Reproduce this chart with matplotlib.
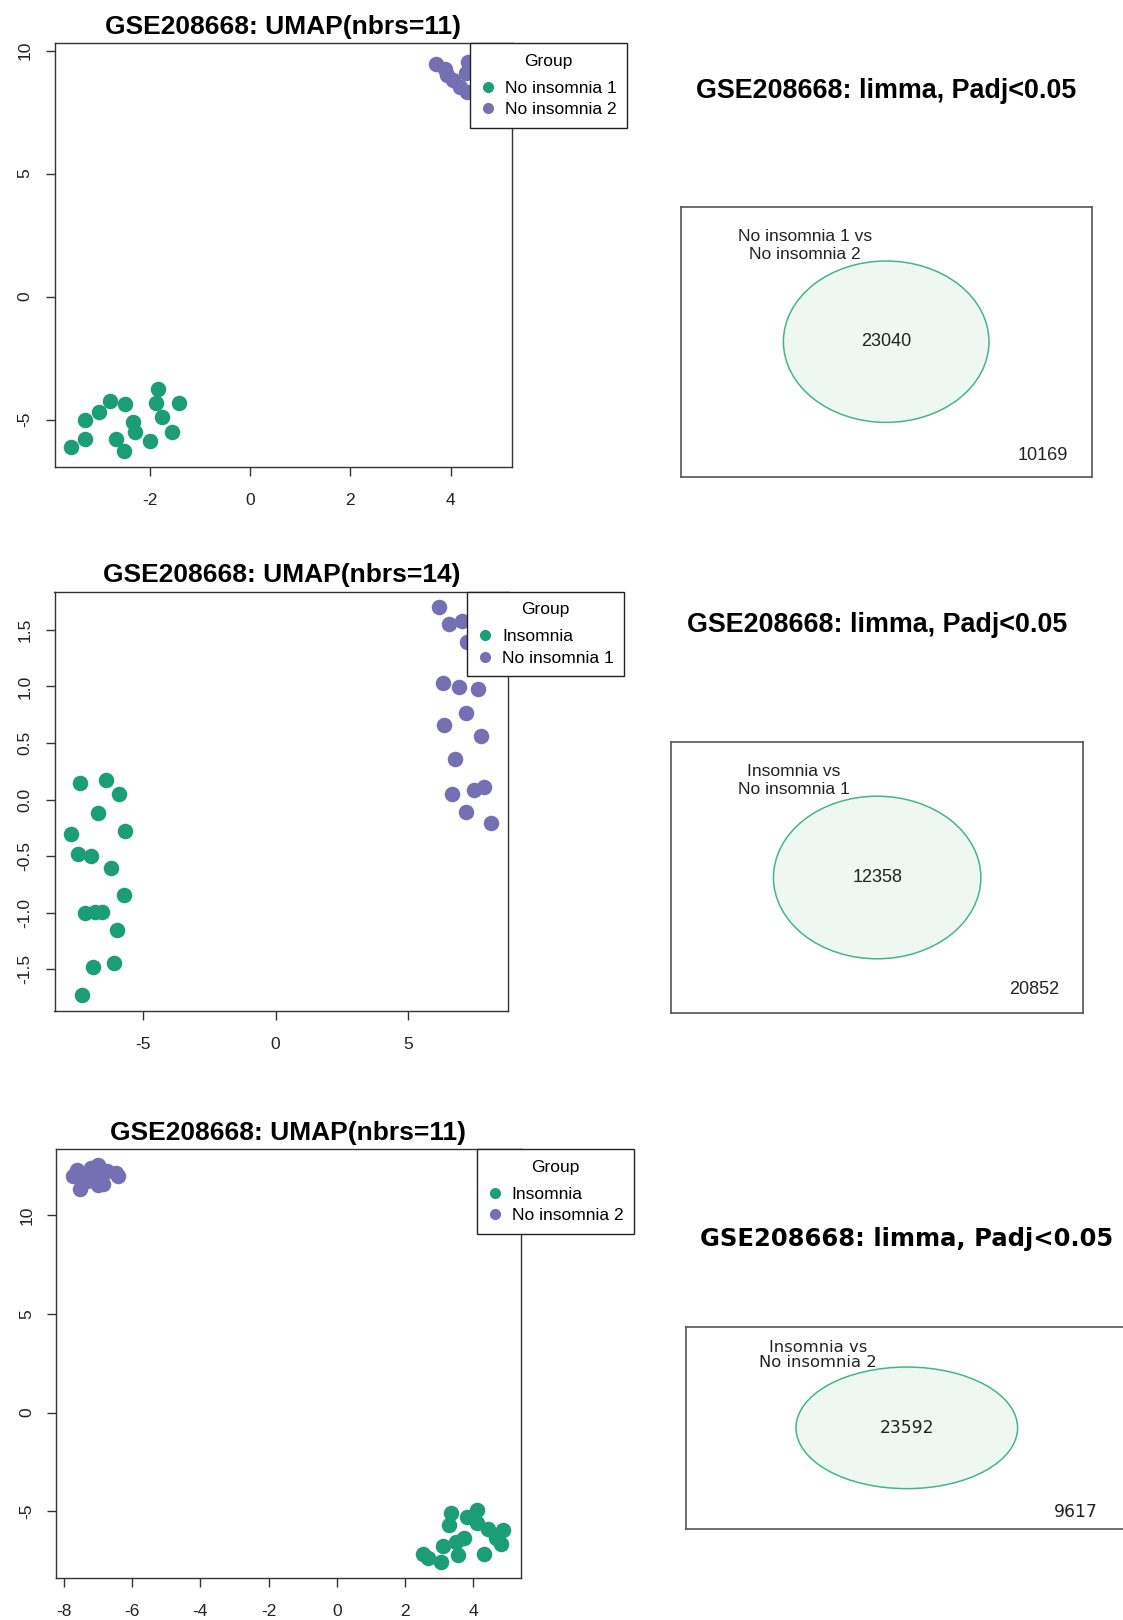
import numpy as np
import matplotlib
matplotlib.use('Agg')
import matplotlib.pyplot as plt
from matplotlib.patches import Ellipse
from matplotlib.lines import Line2D
from matplotlib.ticker import FormatStrFormatter

plt.rcParams['font.family'] = ['Liberation Sans', 'DejaVu Sans']
plt.rcParams['axes.unicode_minus'] = False

FW, FH, DPI = 1123, 1620, 100
GREEN = '#1B9E77'
PURPLE = '#7570B3'

# --- UMAP embeddings (nbrs=11): No insomnia 1 vs No insomnia 2
u1_a_x = [-3.57, -3.29, -3.29, -3.02, -2.79, -2.51, -2.67, -2.53, -2.35, -2.30, -2.00, -1.84, -1.88, -1.76, -1.57, -1.43]
u1_a_y = [-6.12, -5.81, -5.00, -4.70, -4.23, -4.36, -5.78, -6.28, -5.08, -5.51, -5.88, -3.76, -4.32, -4.91, -5.49, -4.34]
u1_b_x = [3.72, 3.89, 3.92, 4.05, 4.19, 4.32, 4.35, 4.30, 4.50, 4.62, 4.75, 4.88, 4.55, 4.70]
u1_b_y = [9.47, 9.27, 9.00, 8.80, 8.52, 8.32, 9.54, 9.10, 9.66, 9.20, 8.90, 9.40, 8.60, 9.50]

# --- UMAP (nbrs=14): Insomnia vs No insomnia 1
u2_a_x = [-7.37, -6.38, -5.89, -6.69, -7.68, -5.65, -7.42, -6.95, -6.20, -5.69, -7.18, -6.80, -6.54, -5.97, -6.85, -6.09, -7.26]
u2_a_y = [0.147, 0.176, 0.047, -0.118, -0.309, -0.279, -0.485, -0.500, -0.609, -0.844, -1.006, -0.997, -0.997, -1.153, -1.476, -1.441, -1.732]
u2_b_x = [6.15, 6.51, 7.00, 7.20, 6.31, 6.92, 7.63, 7.17, 6.32, 7.74, 6.74, 6.63, 7.48, 7.86, 7.15, 8.12]
u2_b_y = [1.700, 1.553, 1.574, 1.391, 1.029, 0.994, 0.979, 0.768, 0.656, 0.562, 0.362, 0.053, 0.088, 0.112, -0.109, -0.206]

# --- UMAP (nbrs=11): Insomnia vs No insomnia 2
u3_a_x = [3.34, 3.30, 3.82, 4.12, 4.10, 4.42, 4.88, 4.66, 4.80, 3.74, 3.48, 3.10, 2.54, 2.68, 3.06, 3.56, 4.30]
u3_a_y = [-5.10, -5.69, -5.27, -4.92, -5.59, -5.89, -5.93, -6.32, -6.65, -6.32, -6.57, -6.74, -7.16, -7.38, -7.58, -7.21, -7.16]
u3_b_x = [-7.72, -7.61, -6.99, -6.74, -6.47, -6.42, -6.84, -7.53, -7.33, -7.14, -7.48, -7.20, -6.90, -7.00]
u3_b_y = [11.96, 12.26, 12.52, 12.21, 12.10, 11.96, 11.57, 11.32, 11.71, 12.05, 11.88, 12.40, 11.80, 11.50]

umap_titles = ['GSE208668: UMAP(nbrs=11)', 'GSE208668: UMAP(nbrs=14)', 'GSE208668: UMAP(nbrs=11)']
umap_groups = [('No insomnia 1', 'No insomnia 2'), ('Insomnia', 'No insomnia 1'), ('Insomnia', 'No insomnia 2')]
umap_xticks = [[-2, 0, 2, 4], [-5, 0, 5], [-8, -6, -4, -2, 0, 2, 4]]
umap_yticks = [[-5, 0, 5, 10], [-1.5, -1.0, -0.5, 0.0, 0.5, 1.0, 1.5], [-5, 0, 5, 10]]
umap_yfmt = ['%d', '%.1f', '%d']

# --- limma DE counts, Padj<0.05
venn_title = 'GSE208668: limma, Padj<0.05'
venn_pairs = ['No insomnia 1 vs\nNo insomnia 2', 'Insomnia vs\nNo insomnia 1', 'Insomnia vs\nNo insomnia 2']
venn_in = [23040, 12358, 23592]
venn_out = [10169, 20852, 9617]


def px_axes(fig, left, top, w, h):
    return fig.add_axes([left / FW, 1 - (top + h) / FH, w / FW, h / FH])


def r_lim(v):
    # same 4% padding R uses for plot ranges
    lo, hi = min(v), max(v)
    r = hi - lo
    return lo - 0.04 * r, hi + 0.04 * r


fig = plt.figure(figsize=(FW / DPI, FH / DPI), dpi=DPI)

# panel boxes in pixels: (left, top, width, height), legend x anchor
umap_boxes = [(54.5, 43.3, 457, 423.4), (54.5, 591.7, 453.7, 419.3), (56.1, 1149.3, 464.4, 429)]
leg_x0 = [0.910, 0.910, 0.907]
umap_data = [(u1_a_x, u1_a_y, u1_b_x, u1_b_y),
             (u2_a_x, u2_a_y, u2_b_x, u2_b_y),
             (u3_a_x, u3_a_y, u3_b_x, u3_b_y)]

LEG_FS = 12.5
for i, (ax_, ay_, bx_, by_) in enumerate(umap_data):
    ax = px_axes(fig, *umap_boxes[i])
    ax.scatter(ax_, ay_, s=125, c=GREEN, linewidths=0, zorder=2)
    ax.scatter(bx_, by_, s=125, c=PURPLE, linewidths=0, zorder=2)
    ax.set_xlim(r_lim(ax_ + bx_))
    ax.set_ylim(r_lim(ay_ + by_))
    ax.set_xticks(umap_xticks[i])
    ax.set_yticks(umap_yticks[i])
    ax.yaxis.set_major_formatter(FormatStrFormatter(umap_yfmt[i]))
    ax.tick_params(axis='both', length=6.7, width=1, color='#333333', labelsize=12.5, labelcolor='#222222')
    ax.tick_params(axis='x', pad=12)
    ax.tick_params(axis='y', pad=9)
    for lab in ax.get_yticklabels():
        lab.set_rotation(90)
        lab.set_va('center')
    for sp in ax.spines.values():
        sp.set_color('#333333')
        sp.set_linewidth(1)
    ax.set_title(umap_titles[i], fontsize=19, fontweight='bold', pad=7)

    handles = [Line2D([], [], marker='o', ls='', color=GREEN, markersize=7),
               Line2D([], [], marker='o', ls='', color=PURPLE, markersize=7)]
    leg = ax.legend(handles, umap_groups[i], title='Group', loc='upper left',
                    bbox_to_anchor=(leg_x0[i], 1.0), borderaxespad=0, fontsize=LEG_FS,
                    title_fontsize=LEG_FS, frameon=True, fancybox=False, framealpha=1,
                    edgecolor='#222222', borderpad=0.6, handlelength=0.84,
                    handletextpad=0.55, labelspacing=0.36)
    # wider gap between the "Group" title and the entries
    leg._legend_box.sep = 0.5 * LEG_FS * DPI / 72
    leg.get_frame().set_linewidth(1)
    leg.set_zorder(5)

# Venn panels: (left, top, width, height) in pixels
venn_boxes = [(680.7, 206.7, 411, 270), (671, 741.7, 412.3, 271.6), (686, 1326.7, 441.6, 202.3)]
venn_ell = [(205.6, 161.4), (207.4, 162.6), (221.6, 121.6)]
venn_lab = [(124, 38.8), (122.8, 38.8), (132, 28.5)]
venn_outpos = [(362.6, 248.3), (363.3, 248.3), (390, 185.6)]
venn_title_off = [115.4, 116.4, 87.4]

for i in range(3):
    left, top, w, h = venn_boxes[i]
    ax = px_axes(fig, left, top, w, h)
    ax.set_xlim(0, w)
    ax.set_ylim(h, 0)
    ax.set_xticks([])
    ax.set_yticks([])
    for sp in ax.spines.values():
        sp.set_color('#555555')
        sp.set_linewidth(1.2)
    ew, eh = venn_ell[i]
    ax.add_patch(Ellipse((w / 2, h / 2), ew, eh, facecolor='#EFF7F3',
                         edgecolor='#45B48E', linewidth=1.1))
    if i < 2:
        fam, tsz, lsz, nsz, ls = ['Liberation Sans'], 19.4, 12.5, 13, 1.25
    else:
        fam, tsz, lsz, nsz, ls = ['DejaVu Sans'], 17.5, 11.8, 12.3, 0.95
    ax.text(w / 2, h / 2, str(venn_in[i]), ha='center', va='center', fontsize=nsz,
            family=fam, color='#222222')
    ax.text(*venn_outpos[i], str(venn_out[i]), ha='center', va='center', fontsize=nsz,
            family=fam, color='#222222')
    ax.text(*venn_lab[i], venn_pairs[i], ha='center', va='center', fontsize=lsz,
            family=fam, color='#222222', linespacing=ls, multialignment='center')
    ax.text(w / 2, -venn_title_off[i], venn_title, ha='center', va='center',
            fontsize=tsz, fontweight='bold', family=fam, clip_on=False)

fig.savefig('out.png', dpi=DPI, facecolor='white')
